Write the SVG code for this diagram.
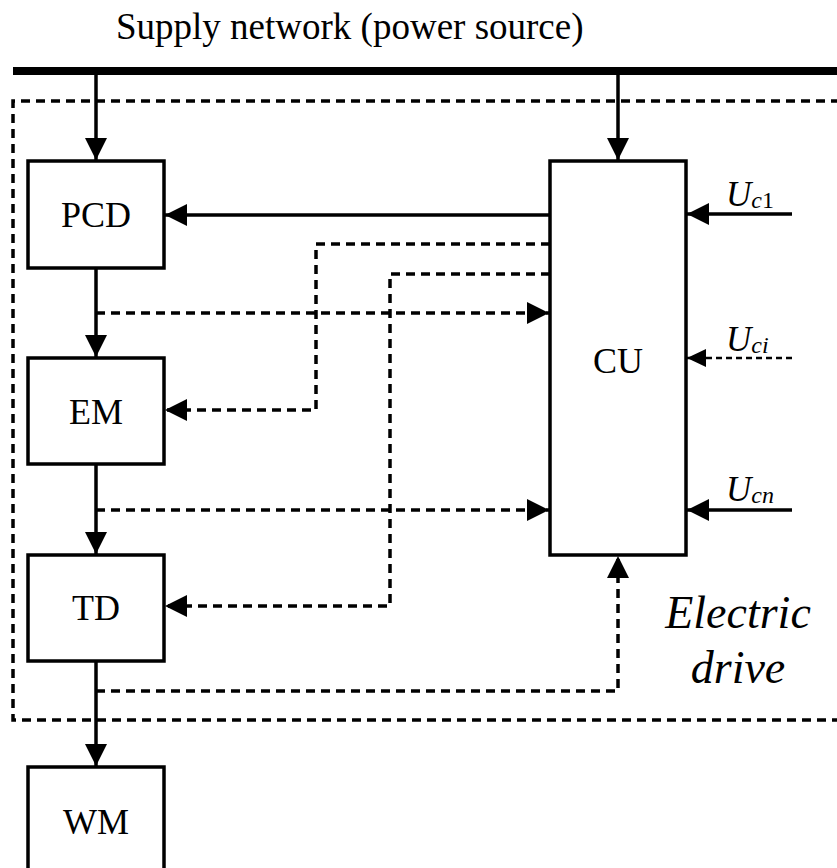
<svg xmlns="http://www.w3.org/2000/svg" width="837" height="868" viewBox="0 0 837 868">
<defs>
<marker id="ah" markerUnits="userSpaceOnUse" markerWidth="24" markerHeight="24" viewBox="0 0 24 24" refX="22" refY="12" orient="auto">
<path d="M0,1 L22,12 L0,23 Z" fill="#000"/>
</marker>
<marker id="ahs" markerUnits="userSpaceOnUse" markerWidth="20" markerHeight="20" viewBox="0 0 20 20" refX="19" refY="10" orient="auto">
<path d="M0,1 L19,10 L0,19 Z" fill="#000"/>
</marker>
</defs>
<style>
.box{fill:#fff;stroke:#000;stroke-width:3.5}
.lbl{font-family:"Liberation Serif",serif;font-size:36px;text-anchor:middle;fill:#000}
.sol{fill:none;stroke:#000;stroke-width:3.5}
.dsh{fill:none;stroke:#000;stroke-width:3.5;stroke-dasharray:9,6}
.thin{fill:none;stroke:#000;stroke-width:2.5;stroke-dasharray:6,4}
.u{font-family:"Liberation Serif",serif;font-style:italic;font-size:35px;fill:#000}
.sub{font-size:24px}
</style>
<rect width="837" height="868" fill="#fff"/>
<text x="116" y="39" font-family="Liberation Serif, serif" font-size="37" fill="#000">Supply network (power source)</text>
<line x1="13" y1="71" x2="837" y2="71" stroke="#000" stroke-width="8"/>
<path d="M840,101 H13 V720 H840" fill="none" stroke="#000" stroke-width="3.5" stroke-dasharray="9,6"/>
<g id="connectors">
<line class="sol" x1="96" y1="71" x2="96" y2="160" marker-end="url(#ah)"/>
<line class="sol" x1="618" y1="71" x2="618" y2="160" marker-end="url(#ah)"/>
<line class="sol" x1="550" y1="215" x2="165" y2="215" marker-end="url(#ah)"/>
<path class="dsh" d="M550,244 H316 V410 H165" marker-end="url(#ah)"/>
<path class="dsh" d="M550,274 H390 V606 H165" marker-end="url(#ah)"/>
<line class="sol" x1="96" y1="268" x2="96" y2="357" marker-end="url(#ah)"/>
<path class="dsh" d="M96,313 H549" marker-end="url(#ah)"/>
<line class="sol" x1="96" y1="464" x2="96" y2="554" marker-end="url(#ah)"/>
<path class="dsh" d="M96,510 H549" marker-end="url(#ah)"/>
<line class="sol" x1="96" y1="661" x2="96" y2="766" marker-end="url(#ah)"/>
<path class="dsh" d="M96,691 H618 V556" marker-end="url(#ah)"/>
<line class="sol" x1="792" y1="214" x2="687" y2="214" marker-end="url(#ah)"/>
<line class="thin" x1="792" y1="358" x2="687" y2="358" marker-end="url(#ahs)"/>
<line class="sol" x1="792" y1="510" x2="687" y2="510" marker-end="url(#ah)"/>
</g>
<g id="PCD"><rect class="box" x="28" y="161" width="136" height="107"/><text class="lbl" x="96" y="227">PCD</text></g>
<g id="EM"><rect class="box" x="28" y="358" width="136" height="106"/><text class="lbl" x="96" y="424">EM</text></g>
<g id="TD"><rect class="box" x="28" y="555" width="136" height="106"/><text class="lbl" x="96" y="620">TD</text></g>
<g id="WM"><rect class="box" x="28" y="767" width="136" height="120"/><text class="lbl" x="96" y="834">WM</text></g>
<g id="CU"><rect class="box" x="550" y="161" width="136" height="394"/><text class="lbl" x="618" y="373">CU</text></g>
<g id="inputs">
<text class="u" x="726" y="206">U<tspan class="sub" dy="2">c</tspan><tspan class="sub" font-style="normal">1</tspan></text>
<text class="u" x="726" y="351">U<tspan class="sub" dy="2">ci</tspan></text>
<text class="u" x="726" y="501">U<tspan class="sub" dy="2">cn</tspan></text>
</g>
<text x="738" y="628" font-family="Liberation Serif, serif" font-style="italic" font-size="46" text-anchor="middle" fill="#000">Electric</text>
<text x="738" y="683" font-family="Liberation Serif, serif" font-style="italic" font-size="46" text-anchor="middle" fill="#000">drive</text>
</svg>
